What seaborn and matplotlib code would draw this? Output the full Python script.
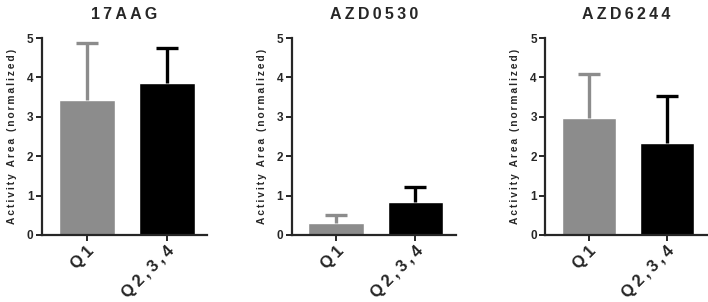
import matplotlib
matplotlib.use('Agg')
import matplotlib.pyplot as plt
import seaborn as sns
import pandas as pd

sns.set_style('ticks')
plt.rcParams['font.family'] = ['Liberation Sans', 'DejaVu Sans']

groups = ['Q1', 'Q2,3,4']
drugs = ['17AAG', 'AZD0530', 'AZD6244']
ylabel = 'Activity Area (normalized)'

mean_17aag = [3.43, 3.86]
sd_17aag = [1.44, 0.89]
mean_azd0530 = [0.31, 0.83]
sd_azd0530 = [0.20, 0.40]
mean_azd6244 = [2.97, 2.33]
sd_azd6244 = [1.12, 1.20]

means = [mean_17aag, mean_azd0530, mean_azd6244]
sds = [sd_17aag, sd_azd0530, sd_azd6244]
colors = ['#8c8c8c', '#000000']


def spaced(s):
    # wide letter spacing like the original figure
    return '\u2009'.join(s)


fig = plt.figure(figsize=(7.08, 3.02), dpi=100)
lefts = [0.059, 0.412, 0.770]
widths = [0.234, 0.232, 0.228]

for i, drug in enumerate(drugs):
    ax = fig.add_axes([lefts[i], 0.222, widths[i], 0.652])
    df = pd.DataFrame({'group': groups, 'value': means[i]})
    sns.barplot(data=df, x='group', y='value', hue='group', palette=colors,
                width=0.7, errorbar=None, legend=False, ax=ax, saturation=1)
    for j in range(len(groups)):
        _, caps, _ = ax.errorbar(j, means[i][j], yerr=[[0], [sds[i][j]]], color=colors[j],
                                 capsize=8, elinewidth=2.4, capthick=2.4, zorder=1)
        caps[0].set_visible(False)
    ax.set_xlim(-0.56, 1.51)
    ax.set_ylim(0, 5)
    ax.set_yticks(range(6))
    ax.set_xticks(range(len(groups)))
    ax.set_xticklabels([spaced(g) for g in groups], rotation=45, ha='right',
                       rotation_mode='anchor', fontsize=12, fontweight='bold')
    for lab in ax.get_yticklabels():
        lab.set_fontweight('bold')
        lab.set_fontsize(8.5)
    ax.set_xlabel('')
    ax.set_ylabel(spaced(ylabel), fontsize=7.3, fontweight='bold', labelpad=7)
    ax.set_title(spaced(drug), fontsize=11.5, fontweight='bold', pad=14)
    sns.despine(ax=ax)
    for s in ['left', 'bottom']:
        ax.spines[s].set_linewidth(1.6)
    ax.tick_params(width=1.4, length=4, pad=2)

fig.savefig('out.png', dpi=100)
